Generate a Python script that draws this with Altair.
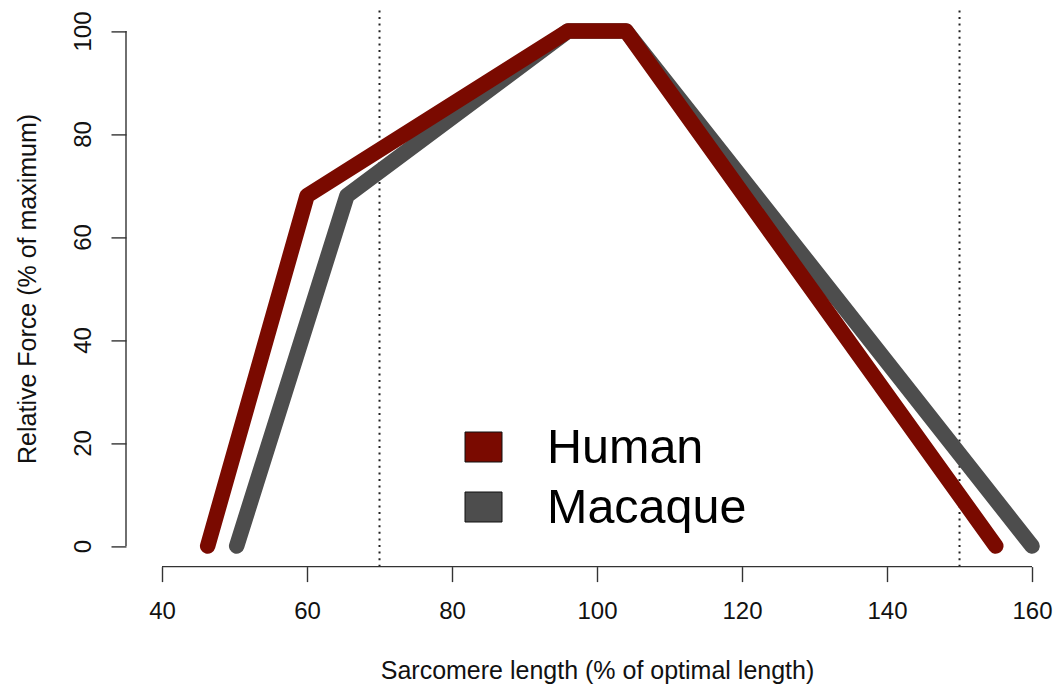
import altair as alt
import pandas as pd

# ---- data ----
human_x = [46.3, 60.0, 96.0, 104.0, 155.0]
human_y = [0, 68, 100, 100, 0]
macaque_x = [50.3, 65.5, 96.0, 104.0, 160.0]
macaque_y = [0, 68, 100, 100, 0]
series_names = ["Human", "Macaque"]
series_colors = ["#7a0a00", "#4d4d4d"]
ref_lines = [70, 150]
x_ticks = [40, 60, 80, 100, 120, 140, 160]
y_ticks = [0, 20, 40, 60, 80, 100]

# ---- layout ----
LEFT, TOP = 126, 10.4
W, H = 919, 556.2
X_DOM = [35.034, 161.79]
Y_DOM = [-4, 104]
FONT = "Liberation Sans"
TXT = "#111111"

xs = alt.Scale(domain=X_DOM, nice=False, zero=False)
ys = alt.Scale(domain=Y_DOM, nice=False, zero=False)

human = pd.DataFrame({"x": human_x, "y": human_y, "s": "Human"})
macaque = pd.DataFrame({"x": macaque_x, "y": macaque_y, "s": "Macaque"})

x_axis = alt.Axis(values=x_ticks, domain=False, grid=False, tickSize=15, tickWidth=1.4,
                  tickColor="#333333", labelFontSize=24, labelFont=FONT, labelColor=TXT,
                  labelPadding=18, labelFlush=False,
                  title="Sarcomere length (% of optimal length)", titleFont=FONT,
                  titleFontSize=25, titleFontWeight="normal", titleColor=TXT,
                  titleX=471, titleY=112, titleBaseline="alphabetic", titleAlign="center")
y_axis = alt.Axis(values=y_ticks, domain=False, grid=False, tickSize=15, tickWidth=1.4,
                  tickColor="#333333", labelFontSize=24, labelFont=FONT, labelColor=TXT,
                  labelAngle=270, labelAlign="center", labelBaseline="alphabetic",
                  labelPadding=21, labelFlush=False,
                  title="Relative Force (% of maximum)", titleFont=FONT, titleFontSize=25,
                  titleFontWeight="normal", titleColor=TXT, titleAngle=270,
                  titleX=-91, titleY=278, titleBaseline="alphabetic", titleAlign="center")

base_axes = alt.Chart(pd.DataFrame({"x": [x_ticks[0]], "y": [y_ticks[0]]})).mark_point(opacity=0).encode(
    x=alt.X("x:Q", scale=xs, axis=x_axis),
    y=alt.Y("y:Q", scale=ys, axis=y_axis),
)

x_line = alt.Chart(pd.DataFrame({"a": [x_ticks[0]], "b": [x_ticks[-1]]})).mark_rule(
    color="#333333", strokeWidth=1.4).encode(
    x=alt.X("a:Q", scale=xs), x2="b:Q", y=alt.value(H))
y_line = alt.Chart(pd.DataFrame({"a": [y_ticks[0]], "b": [y_ticks[-1]]})).mark_rule(
    color="#333333", strokeWidth=1.4).encode(
    y=alt.Y("a:Q", scale=ys), y2="b:Q", x=alt.value(0))

dotted = alt.Chart(pd.DataFrame({"x": ref_lines})).mark_rule(
    color="#222222", strokeWidth=2, strokeDash=[2, 4.6]).encode(
    x=alt.X("x:Q", scale=xs), y=alt.value(0), y2=alt.value(H))

def series_line(df, color):
    return alt.Chart(df).mark_line(color=color, strokeWidth=15.5, strokeCap="round",
                                   strokeJoin="round").encode(
        x=alt.X("x:Q", scale=xs), y=alt.Y("y:Q", scale=ys), order=alt.Order("o:Q")
    ).transform_window(o="row_number()")

mac_line = series_line(macaque, series_colors[1])
hum_line = series_line(human, series_colors[0])

legend_layers = []
for i, (name, col) in enumerate(zip(series_names, series_colors)):
    y0 = 421.6 + 60 * i
    legend_layers.append(
        alt.Chart(pd.DataFrame({"s": [name]})).mark_rect(
            color=col, stroke="#111111", strokeWidth=1).encode(
            x=alt.value(339), x2=alt.value(376), y=alt.value(y0), y2=alt.value(y0 + 30))
    )
    legend_layers.append(
        alt.Chart(pd.DataFrame({"s": [name]})).mark_text(
            font=FONT, fontSize=48.5, align="left", baseline="alphabetic", color="#000000").encode(
            text="s:N", x=alt.value(421), y=alt.value(y0 + 31))
    )

chart = alt.layer(base_axes, dotted, x_line, y_line, mac_line, hum_line, *legend_layers).properties(
    width=W, height=H,
    autosize=alt.AutoSizeParams(type="none"),
    padding={"left": LEFT, "top": TOP, "right": 1057 - LEFT - W, "bottom": 686 - TOP - H},
    background="white",
).configure_view(stroke=None)

chart.save("out.html", embed_options={"renderer": "svg", "actions": False})
